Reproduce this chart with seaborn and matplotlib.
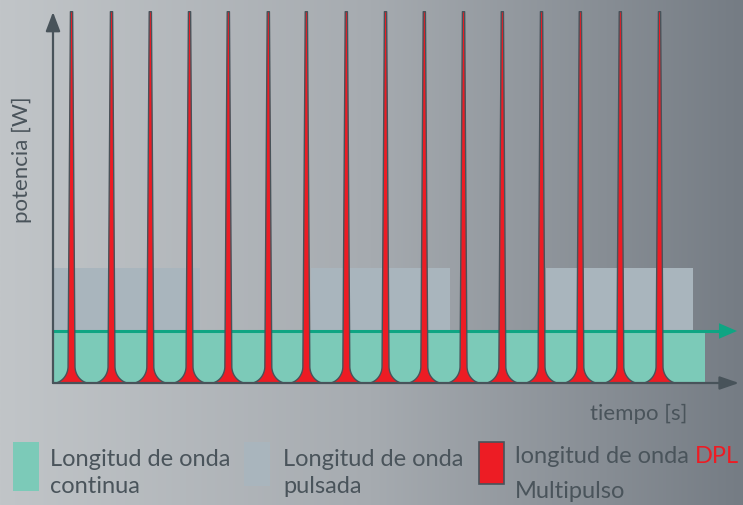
import numpy as np
import matplotlib
matplotlib.use("Agg")
import matplotlib.pyplot as plt
from matplotlib.colors import LinearSegmentedColormap
from matplotlib.patches import Rectangle
import seaborn as sns

# pulse times (in pulse periods) and peak power (relative to cw level)
pulse_times = [0.46, 1.48, 2.47, 3.47, 4.46, 5.48, 6.45, 7.47,
               8.47, 9.46, 10.46, 11.45, 12.45, 13.44, 14.46, 15.46]
pulse_peaks = [7.15, 7.15, 7.15, 7.15, 7.15, 7.15, 7.15, 7.15,
               7.15, 7.15, 7.15, 7.15, 7.15, 7.15, 7.15, 7.15]

# continuous wave
cw_level = 1.0
cw_end = 16.63

# pulsed wave blocks
pulsed_starts = [0.0, 6.58, 12.58]
pulsed_ends = [3.75, 10.13, 16.33]
pulsed_levels = [2.21, 2.21, 2.21]

RED = "#ed1c24"
OUTLINE = "#48535a"
GREEN_FILL = "#7ccab8"
GREEN_LINE = "#0fa583"
GREY_BLOCK = "#a9b5bd"
TEXT = "#4a545b"

W, H = 743, 505
PX_X = 39.2   # pixels per time unit
PX_Y = 52.0   # pixels per power unit

sns.set_theme(style="white")
plt.rcParams['font.family'] = ['Lato', 'DejaVu Sans']

fig = plt.figure(figsize=(W / 100, H / 100), dpi=100)

# background gradient
bg = fig.add_axes([0, 0, 1, 1], zorder=0)
grad = np.linspace(0, 1, 256).reshape(1, -1)
cmap = LinearSegmentedColormap.from_list("bg", ["#c1c5c8", "#a6abb0", "#757c84"])
bg.imshow(grad, aspect="auto", cmap=cmap, extent=[0, 1, 0, 1])
bg.set_xlim(0, 1)
bg.set_ylim(0, 1)
bg.axis("off")

def fx(px):
    return px / W

def fy(py):
    return 1 - py / H

# main axes
x0, x1, y0, y1 = 53, 742, 383, 8
ax = fig.add_axes([fx(x0), fy(y0), fx(x1) - fx(x0), fy(y1) - fy(y0)], zorder=1)
ax.patch.set_alpha(0)
ax.set_xlim(0, (x1 - x0) / PX_X)
ax.set_ylim(0, (y0 - y1) / PX_Y)
for s in ax.spines.values():
    s.set_visible(False)
ax.set_xticks([])
ax.set_yticks([])

# pulsed blocks
for a, b, lv in zip(pulsed_starts, pulsed_ends, pulsed_levels):
    ax.add_patch(Rectangle((a, 0), b - a, lv, facecolor=GREY_BLOCK, edgecolor="none", zorder=1))

# continuous wave
ax.add_patch(Rectangle((0, 0), cw_end, cw_level, facecolor=GREEN_FILL, edgecolor="none", zorder=2))
cw = {"t": [0, 17.2], "p": [cw_level, cw_level]}
sns.lineplot(x=cw["t"], y=cw["p"], ax=ax, color=GREEN_LINE, lw=2.2, zorder=2.5)
ax.annotate("", xy=(17.45, cw_level), xytext=(17.0, cw_level),
            arrowprops=dict(arrowstyle="-|>,head_length=0.65,head_width=0.28",
                            mutation_scale=20, color=GREEN_LINE, lw=0,
                            shrinkA=0, shrinkB=0), zorder=2.5)

# DPL multipulse spikes (half width profile in pixels vs height)
def spike_halfwidth(h_px, top_px):
    core = 1.1 + 2.5 * (1 - h_px / top_px)
    rx, ry = 15.8, 17.0
    flare = np.where(h_px < ry, rx * (1 - np.sqrt(np.clip(1 - ((ry - h_px) / ry) ** 2, 0, 1))), 0)
    return core + flare

for tc, pk in zip(pulse_times, pulse_peaks):
    top_px = pk * PX_Y
    h_px = np.concatenate([np.linspace(0, 20, 300), np.linspace(20, top_px, 200)])
    w = spike_halfwidth(h_px, top_px) / PX_X
    h = h_px / PX_Y
    ax.fill_betweenx(h, tc - w, tc + w, facecolor=RED, edgecolor=OUTLINE, lw=1.0, zorder=3)

# axes arrows
ax.annotate("", xy=(17.5, 0), xytext=(0, 0),
            arrowprops=dict(arrowstyle="-|>,head_length=0.58,head_width=0.2",
                            mutation_scale=20, color=OUTLINE, lw=1.6,
                            shrinkA=0, shrinkB=0), zorder=4, annotation_clip=False)
ax.annotate("", xy=(0, (383 - 12) / PX_Y), xytext=(0, 0),
            arrowprops=dict(arrowstyle="-|>,head_length=0.58,head_width=0.22",
                            mutation_scale=20, color=OUTLINE, lw=1.6,
                            shrinkA=0, shrinkB=0), zorder=4, annotation_clip=False)

# axis labels
fig.text(fx(22), fy(160), "potencia [W]", rotation=90, ha="center", va="center",
         fontsize=16, color=TEXT)
fig.text(fx(639), fy(420), "tiempo [s]", ha="center", va="baseline",
         fontsize=16, color=TEXT)

# legend
bg.add_patch(Rectangle((fx(13), fy(491)), fx(26), 49 / H, facecolor=GREEN_FILL,
                       edgecolor="none", transform=bg.transAxes))
bg.add_patch(Rectangle((fx(244), fy(486)), fx(26), 44 / H, facecolor=GREY_BLOCK,
                       edgecolor="none", transform=bg.transAxes))
bg.add_patch(Rectangle((fx(479), fy(484)), fx(25), 42 / H, facecolor=RED,
                       edgecolor=OUTLINE, lw=1.2, transform=bg.transAxes))

fs = 17
fig.text(fx(50), fy(466), "Longitud de onda", fontsize=fs, color=TEXT, va="baseline")
fig.text(fx(50), fy(493), "continua", fontsize=fs, color=TEXT, va="baseline")
fig.text(fx(283), fy(466), "Longitud de onda", fontsize=fs, color=TEXT, va="baseline")
fig.text(fx(283), fy(493), "pulsada", fontsize=fs, color=TEXT, va="baseline")
t1 = fig.text(fx(515), fy(463), "longitud de onda", fontsize=fs, color=TEXT, va="baseline")
bg.annotate("DPL", xy=(1, 0), xycoords=t1, xytext=(4, 0), textcoords="offset points",
            fontsize=fs, color=RED, va="bottom", ha="left")
fig.text(fx(515), fy(498), "Multipulso", fontsize=fs, color=TEXT, va="baseline")

fig.savefig("out.png", dpi=100)
